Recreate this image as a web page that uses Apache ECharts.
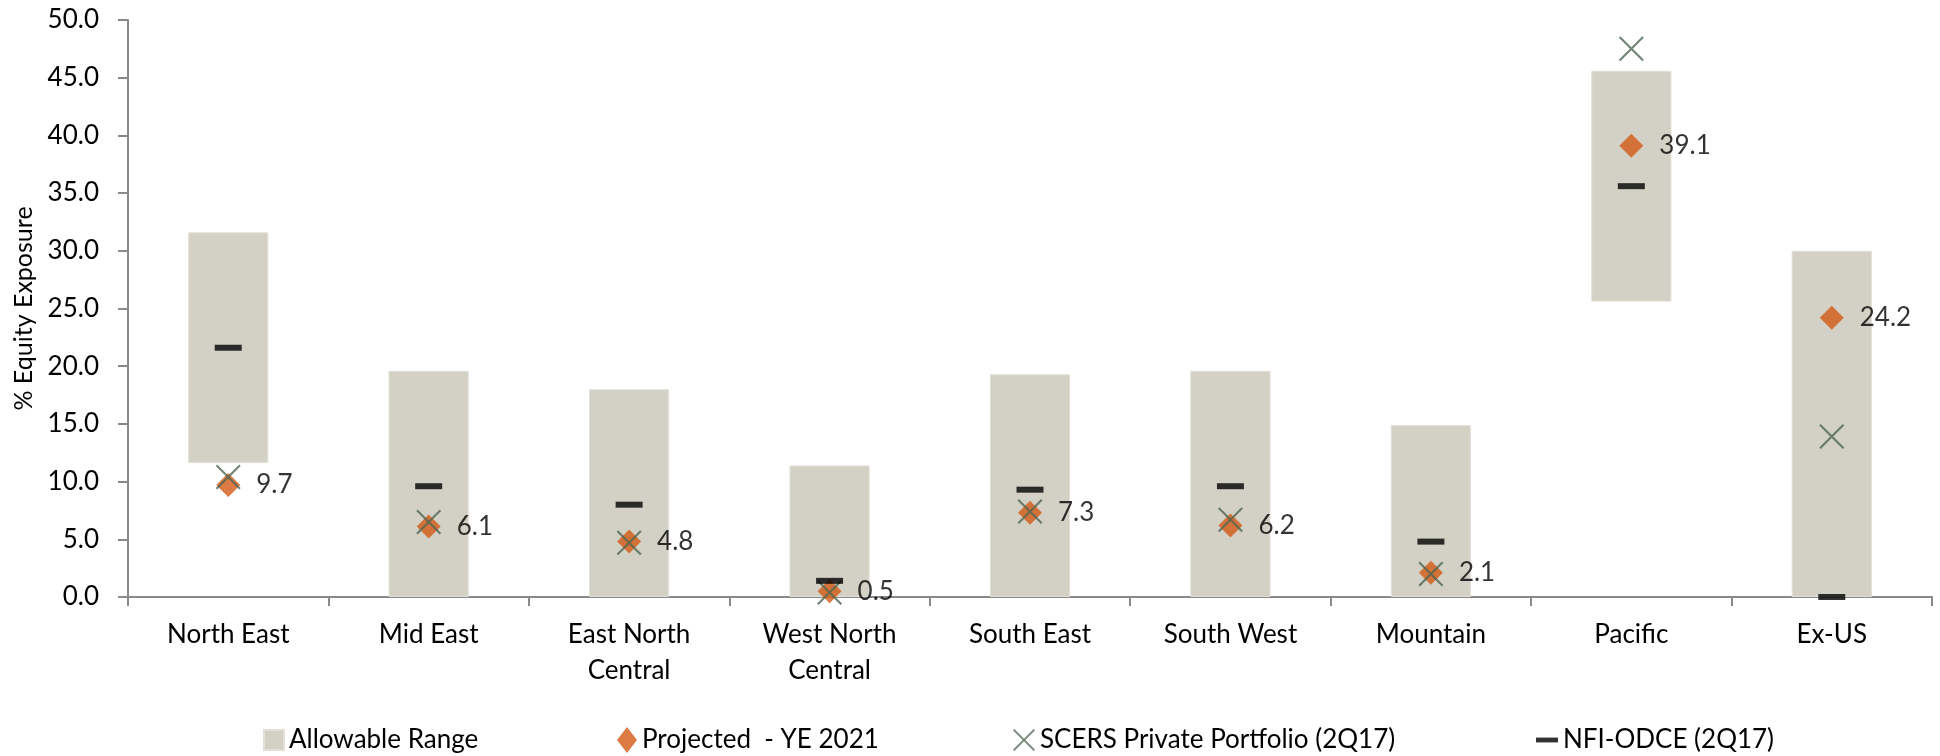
<!DOCTYPE html>
<html>
<head>
<meta charset="utf-8">
<title>% Equity Exposure by Region</title>
<script src="https://cdn.jsdelivr.net/npm/echarts@6/dist/echarts.min.js"></script>
<style>
  html, body { margin: 0; padding: 0; background: #ffffff; }
  #chart { width: 1940px; height: 756px; }
</style>
</head>
<body>
<div id="chart"></div>
<script>
// Regions on the category axis
var regions = ['North East', 'Mid East', 'East North\nCentral', 'West North\nCentral',
               'South East', 'South West', 'Mountain', 'Pacific', 'Ex-US'];

// Allowable range per region (low / high, % of equity)
var rangeLow  = [11.6, 0.0, 0.0, 0.0, 0.0, 0.0, 0.0, 25.6, 0.0];
var rangeHigh = [31.6, 19.6, 18.0, 11.4, 19.3, 19.6, 14.9, 45.6, 30.0];

// Projected exposure at year end 2021
var projected = [9.7, 6.1, 4.8, 0.5, 7.3, 6.2, 2.1, 39.1, 24.2];

// SCERS private portfolio, 2Q17
var scers = [10.4, 6.5, 4.7, 0.4, 7.4, 6.7, 2.0, 47.5, 13.9];

// NFI-ODCE benchmark, 2Q17
var nfiOdce = [21.6, 9.6, 8.0, 1.4, 9.3, 9.6, 4.8, 35.6, 0.0];

// Value axis ticks
var yMin = 0, yMax = 50, yStep = 5;

var FONT = 'Lato';
var COLOR_RANGE = '#d3d1c5';
var COLOR_PROJ = '#d35a14';
var COLOR_SCERS = '#4e6553';
var COLOR_NFI = '#000000';

// Cross marker drawn as a filled outline so it renders the same in legend and plot
var CROSS = 'path://M0,6L6,0L50,44L94,0L100,6L56,50L100,94L94,100L50,56L6,100L0,94L44,50Z';
var DASH = 'path://M0,0H100V22H0Z';

var rangeSpan = rangeHigh.map(function (h, i) { return +(h - rangeLow[i]).toFixed(2); });

var legendText = { fontFamily: FONT, fontSize: 26, color: '#000' };
function legendAt(left, name, icon, w, h) {
  return {
    left: left, top: 722, orient: 'horizontal',
    itemWidth: w, itemHeight: h, itemGap: 0,
    textStyle: legendText, selectedMode: false,
    data: [{ name: name, icon: icon }]
  };
}

var option = {
  backgroundColor: '#ffffff',
  animation: false,
  textStyle: { fontFamily: FONT },
  grid: { left: 128, right: 8, top: 20, bottom: 159, containLabel: false },
  legend: [
    legendAt(258, 'Allowable Range', 'rect', 20, 20),
    legendAt(612, 'Projected  - YE 2021', 'diamond', 20, 26),
    legendAt(1008, 'SCERS Private Portfolio (2Q17)', CROSS, 22, 22),
    legendAt(1531, 'NFI-ODCE (2Q17)', DASH, 22, 22)
  ],
  xAxis: {
    type: 'category',
    data: regions,
    boundaryGap: true,
    axisLine: { lineStyle: { color: '#898989', width: 2 } },
    axisTick: { show: true, interval: 0, length: 9, lineStyle: { color: '#898989', width: 2 } },
    axisLabel: {
      interval: 0, margin: 20, color: '#000',
      fontFamily: FONT, fontSize: 26, lineHeight: 36
    }
  },
  yAxis: {
    type: 'value',
    min: yMin, max: yMax, interval: yStep,
    name: '% Equity Exposure',
    nameLocation: 'middle',
    nameGap: 92,
    nameTextStyle: { fontFamily: FONT, fontSize: 25, color: '#000' },
    splitLine: { show: false },
    axisLine: { show: true, lineStyle: { color: '#898989', width: 2 } },
    axisTick: { show: true, length: 10, lineStyle: { color: '#898989', width: 2 } },
    axisLabel: {
      margin: 29, color: '#000', fontFamily: FONT, fontSize: 26,
      formatter: function (v) { return v.toFixed(1); }
    }
  },
  series: [
    {
      name: 'base', type: 'bar', stack: 'range', barWidth: '40%',
      itemStyle: { color: 'transparent' },
      emphasis: { disabled: true },
      data: rangeLow, z: 1
    },
    {
      name: 'Allowable Range', type: 'bar', stack: 'range', barWidth: '40%',
      itemStyle: { color: COLOR_RANGE, borderColor: '#e2e0d6', borderWidth: 1 },
      data: rangeSpan, z: 1
    },
    {
      name: 'Projected  - YE 2021', type: 'scatter',
      symbol: 'diamond', symbolSize: [24, 24],
      itemStyle: { color: COLOR_PROJ },
      clip: false, z: 3,
      label: {
        show: true, position: 'right', distance: 16, color: '#000',
        fontFamily: FONT, fontSize: 26,
        formatter: function (p) { return p.value.toFixed(1); }
      },
      data: projected
    },
    {
      name: 'SCERS Private Portfolio (2Q17)', type: 'scatter',
      symbol: CROSS, symbolSize: [25, 25],
      itemStyle: { color: COLOR_SCERS },
      clip: false, z: 4,
      data: scers
    },
    {
      name: 'NFI-ODCE (2Q17)', type: 'scatter',
      symbol: 'rect', symbolSize: [27, 6],
      itemStyle: { color: COLOR_NFI },
      clip: false, z: 5,
      data: nfiOdce
    }
  ]
};

var chart = echarts.init(document.getElementById('chart'), null, { renderer: 'canvas' });
chart.setOption(option);
</script>
</body>
</html>
